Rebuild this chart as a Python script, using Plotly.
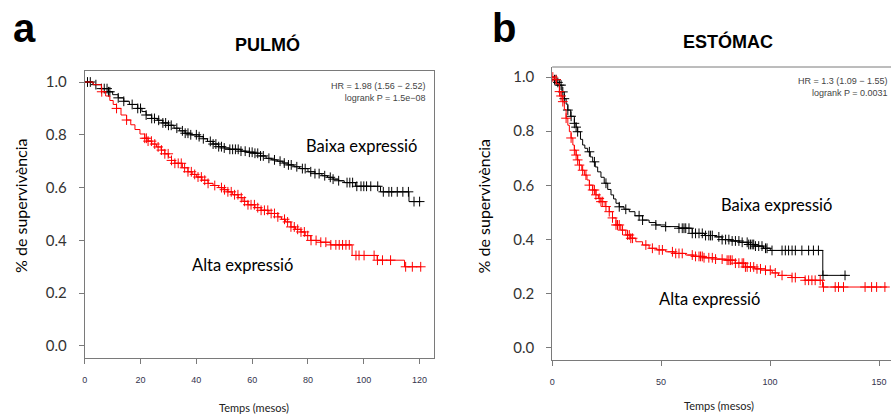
import numpy as np
import plotly.graph_objects as go

# ---------------- Data ----------------
# Panel a (PULMÓ) - Kaplan-Meier step knots (months, survival)
a_low_t = [0, 3, 6, 8.5, 10, 12, 14, 16, 19, 20.5, 22, 24, 26, 28, 30, 32, 34, 36, 38, 41, 42.5, 44, 46, 48, 50, 52, 56, 58, 61, 63, 65, 67, 69, 71, 73, 75, 77, 80, 82.5, 85, 87, 89, 91, 93, 97, 106, 116.2, 120.6]
a_low_s = [1.0, 0.99, 0.975, 0.963, 0.952, 0.94, 0.927, 0.915, 0.9, 0.888, 0.875, 0.862, 0.855, 0.845, 0.836, 0.825, 0.815, 0.806, 0.8, 0.793, 0.785, 0.775, 0.765, 0.755, 0.75, 0.745, 0.738, 0.734, 0.73, 0.72, 0.711, 0.705, 0.70, 0.693, 0.686, 0.679, 0.672, 0.66, 0.653, 0.645, 0.639, 0.632, 0.626, 0.619, 0.605, 0.584, 0.547, 0.547]
a_high_t = [0, 3, 6, 7.5, 9, 10.2, 11.4, 13, 15, 16.5, 18, 19.8, 21.5, 22.7, 24, 25.7, 27.4, 28.7, 30, 31.1, 32.3, 35, 37, 38.5, 40, 42, 44.2, 46, 48, 49.6, 51.3, 53, 55, 56.7, 58.5, 61, 63.2, 66, 69.2, 70.5, 72, 73.9, 75.5, 77.5, 79, 81, 84.5, 88, 95.8, 104.8, 114.6, 120.6]
a_high_s = [1.0, 0.99, 0.963, 0.947, 0.93, 0.915, 0.90, 0.875, 0.856, 0.838, 0.82, 0.803, 0.787, 0.776, 0.765, 0.754, 0.742, 0.728, 0.715, 0.703, 0.692, 0.675, 0.66, 0.65, 0.64, 0.628, 0.616, 0.608, 0.60, 0.592, 0.584, 0.573, 0.562, 0.548, 0.535, 0.524, 0.514, 0.502, 0.489, 0.48, 0.47, 0.451, 0.442, 0.432, 0.418, 0.40, 0.393, 0.383, 0.343, 0.325, 0.30, 0.30]
a_low_cens = [1, 2, 4, 6, 7, 8, 8.5, 9, 12, 14, 17, 19, 20, 22, 24, 25, 26.5, 28, 29, 30, 31, 33, 35, 36, 37, 38, 40, 41, 42.5, 45, 46, 47, 48, 49, 50, 52, 53, 54, 55, 56, 57.5, 59, 60, 61, 62, 63, 64, 66, 68, 70, 71.5, 73, 74, 76, 78, 79, 81, 82.5, 84, 86, 88, 89, 91, 94, 95, 96, 97.5, 99, 100, 101, 102.5, 105, 107, 109, 110, 112, 114, 116, 118, 120]
a_high_cens = [6.1, 11.4, 15, 21.5, 22.1, 22.7, 23.9, 25.1, 26.3, 27.5, 28.7, 29.9, 31.1, 32.3, 33.5, 34.6, 35.8, 37, 38.2, 39.4, 40.6, 41.8, 43, 44.2, 46.6, 49, 50.1, 51.3, 52.5, 53.7, 54.9, 56.1, 57.3, 58.5, 59.6, 60.8, 62, 63.2, 64.4, 65.6, 66.8, 68, 69.2, 71.6, 72.7, 73.9, 75.1, 76.3, 77.5, 78.7, 79.9, 81.1, 82.9, 84.6, 86.4, 88.2, 90, 91.2, 92.4, 93.6, 94.8, 97.2, 98.3, 100.1, 103.7, 104.9, 106.7, 109.6, 115, 117.4, 120.4]

# Panel b (ESTÓMAC)
b_low_t = [0, 1, 2, 3.3, 4.5, 5.6, 6.4, 7.2, 8.5, 10.2, 11, 11.7, 13, 14, 15, 16.3, 17.5, 18.6, 19.8, 20.9, 22.4, 23.9, 25.5, 27, 28.2, 29.3, 30.8, 33, 35.4, 38, 41.5, 44.5, 47.6, 52, 58.2, 64.3, 70, 75, 78, 82, 86, 90, 93, 97, 100.1, 124.2, 135.2]
b_low_s = [1.0, 0.99, 0.98, 0.97, 0.945, 0.92, 0.9, 0.878, 0.855, 0.829, 0.815, 0.798, 0.77, 0.749, 0.737, 0.724, 0.705, 0.687, 0.668, 0.65, 0.63, 0.608, 0.585, 0.565, 0.55, 0.534, 0.521, 0.512, 0.503, 0.488, 0.472, 0.463, 0.454, 0.448, 0.442, 0.423, 0.415, 0.41, 0.40, 0.395, 0.39, 0.382, 0.376, 0.368, 0.36, 0.268, 0.268]
b_high_t = [0, 1, 2, 3.3, 4.1, 4.9, 5.6, 6.4, 7.2, 7.9, 8.7, 9.5, 10.2, 11, 11.7, 12.5, 13.6, 14.8, 16, 17.1, 18.6, 20.1, 21.2, 22.4, 24.3, 26.2, 27.7, 29.3, 31.5, 33.8, 36, 38.4, 41.5, 44.5, 48, 52.1, 56, 61.3, 65, 69, 75, 79.6, 84, 88.7, 93, 97.9, 101, 103.9, 110, 116.1, 124.1, 153.6]
b_high_s = [1.0, 0.99, 0.975, 0.946, 0.93, 0.909, 0.88, 0.848, 0.822, 0.798, 0.775, 0.749, 0.73, 0.712, 0.694, 0.675, 0.656, 0.638, 0.62, 0.601, 0.583, 0.565, 0.552, 0.54, 0.522, 0.503, 0.48, 0.454, 0.435, 0.417, 0.405, 0.392, 0.38, 0.368, 0.362, 0.355, 0.349, 0.343, 0.338, 0.333, 0.328, 0.324, 0.313, 0.299, 0.292, 0.287, 0.277, 0.268, 0.26, 0.25, 0.225, 0.225]
b_low_cens = [1.1, 1.8, 2.6, 3.4, 4.1, 4.9, 5.6, 7.2, 8.7, 10.2, 11, 11.7, 17.1, 19.4, 24.7, 30.8, 33.8, 39.9, 41.5, 47.6, 52.1, 58.2, 59.7, 60.5, 61.3, 62.8, 64.3, 65.8, 67.4, 68.9, 70.4, 71.9, 72.7, 73.5, 76.5, 78, 79.6, 81.1, 82.6, 84.1, 85.7, 87.2, 89.5, 90.2, 91, 91.8, 92.5, 93.3, 94.8, 96.3, 97.9, 98.6, 100.9, 105.5, 107, 108.5, 110.1, 111.6, 114.6, 117.7, 119.9, 122.2, 124.3, 134.4]
b_high_cens = [0.3, 1.8, 3.4, 4.1, 4.9, 6.4, 8.7, 10.2, 11, 11.7, 12.5, 14, 15.5, 17.1, 18.6, 19.4, 20.1, 21.6, 22.4, 23.2, 24.7, 26.2, 27.7, 29.3, 30, 30.8, 32.3, 34.6, 35.4, 36.1, 36.9, 43, 46, 49.1, 50.6, 55.2, 56.7, 58.2, 59.7, 64.3, 65.8, 67.4, 68.1, 68.9, 69.7, 71.9, 73.5, 75, 78, 80.3, 81.1, 81.8, 82.6, 84.1, 85.7, 87.2, 87.9, 88.7, 89.5, 91, 92.5, 94, 95.6, 97.9, 100.1, 102.4, 105.5, 110.1, 111.6, 116.1, 117.7, 119.2, 120.7, 123, 124.5, 129.9, 131.4, 133.7, 143.6, 146.6, 148.9, 152.7]

titles = ["PULMÓ", "ESTÓMAC"]
panel_letters = ["a", "b"]
hr_texts = ["HR = 1.98 (1.56 − 2.52)<br>logrank P = 1.5e−08", "HR = 1.3 (1.09 − 1.55)<br>logrank P = 0.0031"]
low_label = "Baixa expressió"
high_label = "Alta expressió"
y_title = "% de supervivència"
x_title = "Temps (mesos)"
a_xticks = [0, 20, 40, 60, 80, 100, 120]
b_xticks = [0, 50, 100, 150]
yticks = [0.0, 0.2, 0.4, 0.6, 0.8, 1.0]


def step_at(times, surv, q):
    times = np.asarray(times)
    surv = np.asarray(surv)
    idx = np.searchsorted(times, np.asarray(q), side="right") - 1
    idx = np.clip(idx, 0, len(surv) - 1)
    return surv[idx]


fig = go.Figure()

def add_group(t, s, cens, color, xa, ya):
    fig.add_trace(go.Scatter(x=t, y=s, mode="lines", line=dict(color=color, width=1, shape="hv"),
                             xaxis=xa, yaxis=ya, hoverinfo="skip"))
    fig.add_trace(go.Scatter(x=cens, y=step_at(t, s, cens), mode="markers",
                             marker=dict(symbol="cross-thin", size=7, color=color,
                                         line=dict(color=color, width=1)),
                             xaxis=xa, yaxis=ya, hoverinfo="skip"))

add_group(a_low_t, a_low_s, a_low_cens, "#000000", "x", "y")
add_group(a_high_t, a_high_s, a_high_cens, "#ff0000", "x", "y")
add_group(b_low_t, b_low_s, b_low_cens, "#000000", "x2", "y2")
add_group(b_high_t, b_high_s, b_high_cens, "#ff0000", "x2", "y2")

W, H = 891, 414
axis_col = "#7a7a7a"
ytick_font = dict(family="Lato, Open Sans, sans-serif", size=15, color="#333333")
xtick_font = dict(family="Liberation Sans, Arial, sans-serif", size=9, color="#33334d")

common_y = dict(tickmode="array", tickvals=yticks, ticktext=[f"{v:.1f}" for v in yticks],
                ticks="outside", ticklen=5, tickcolor=axis_col, showgrid=False, zeroline=False,
                showline=True, linecolor=axis_col, linewidth=1, tickfont=ytick_font,
                ticklabelstandoff=9)
common_x = dict(ticks="outside", ticklen=5, tickcolor=axis_col, showgrid=False, zeroline=False,
                showline=True, linecolor=axis_col, linewidth=1, tickfont=xtick_font,
                ticklabelstandoff=8, tickmode="array")

fig.update_layout(
    width=W, height=H, margin=dict(l=0, r=0, t=0, b=0),
    paper_bgcolor="white", plot_bgcolor="white", showlegend=False,
    xaxis=dict(domain=[82 / W, 432 / W], range=[0, 125], anchor="y", mirror=True,
               tickvals=a_xticks, ticktext=[str(v) for v in a_xticks], **common_x),
    yaxis=dict(domain=[1 - 358 / H, 1 - 71 / H], range=[-0.0455, 1.0417], anchor="x", mirror=True, **common_y),
    xaxis2=dict(domain=[551 / W, 1.0], range=[0, 155.5], anchor="y2",
                tickvals=b_xticks, ticktext=[str(v) for v in b_xticks], **common_x),
    yaxis2=dict(domain=[1 - 360 / H, 1 - 67 / H], range=[-0.0443, 1.0369], anchor="x2", **common_y),
)

# top border for panel b (right edge is cut off by the frame)
fig.add_shape(type="line", xref="paper", yref="paper", x0=551 / W, x1=1.0,
              y0=1 - 67 / H, y1=1 - 67 / H, line=dict(color=axis_col, width=1))

def ann(text, x, y, size, family, color="#000000", bold=False, xanchor="center", yanchor="middle",
        textangle=0, align="center"):
    if bold:
        text = f"<b>{text}</b>"
    fig.add_annotation(text=text, x=x / W, y=1 - y / H, xref="paper", yref="paper",
                       showarrow=False, xanchor=xanchor, yanchor=yanchor, textangle=textangle,
                       align=align, font=dict(size=size, family=family, color=color))

arial = "Liberation Sans, Arial, sans-serif"
calib = "Lato, Open Sans, sans-serif"

# panel letters
ann(panel_letters[0], 22, 28, 40, arial, bold=True)
ann(panel_letters[1], 503, 28, 40, arial, bold=True)
# titles
ann(titles[0], 265, 44, 18, arial, bold=True)
ann(titles[1], 727, 41, 18, arial, bold=True)
# HR text
ann(hr_texts[0], 426, 92, 9, arial, color="#444444", xanchor="right", align="right")
ann(hr_texts[1], 890, 87, 9, arial, color="#444444", xanchor="right", align="right")
# group labels
ann(low_label, 360, 146, 16.5, calib)
ann(high_label, 240, 265, 16.5, calib)
ann(low_label, 776, 205, 16.5, calib)
ann(high_label, 709, 299, 16.5, calib)
# axis titles
ann(y_title, 17, 206, 16, calib, textangle=-90)
ann(y_title, 482, 206, 16, calib, textangle=-90)
ann(x_title, 252, 407, 11, calib, color="#222222")
ann(x_title, 718, 405, 11, calib, color="#222222")

fig.write_html("out.html", config={"displayModeBar": False},
               post_script="document.body.style.margin='0';document.body.style.overflow='hidden';")
